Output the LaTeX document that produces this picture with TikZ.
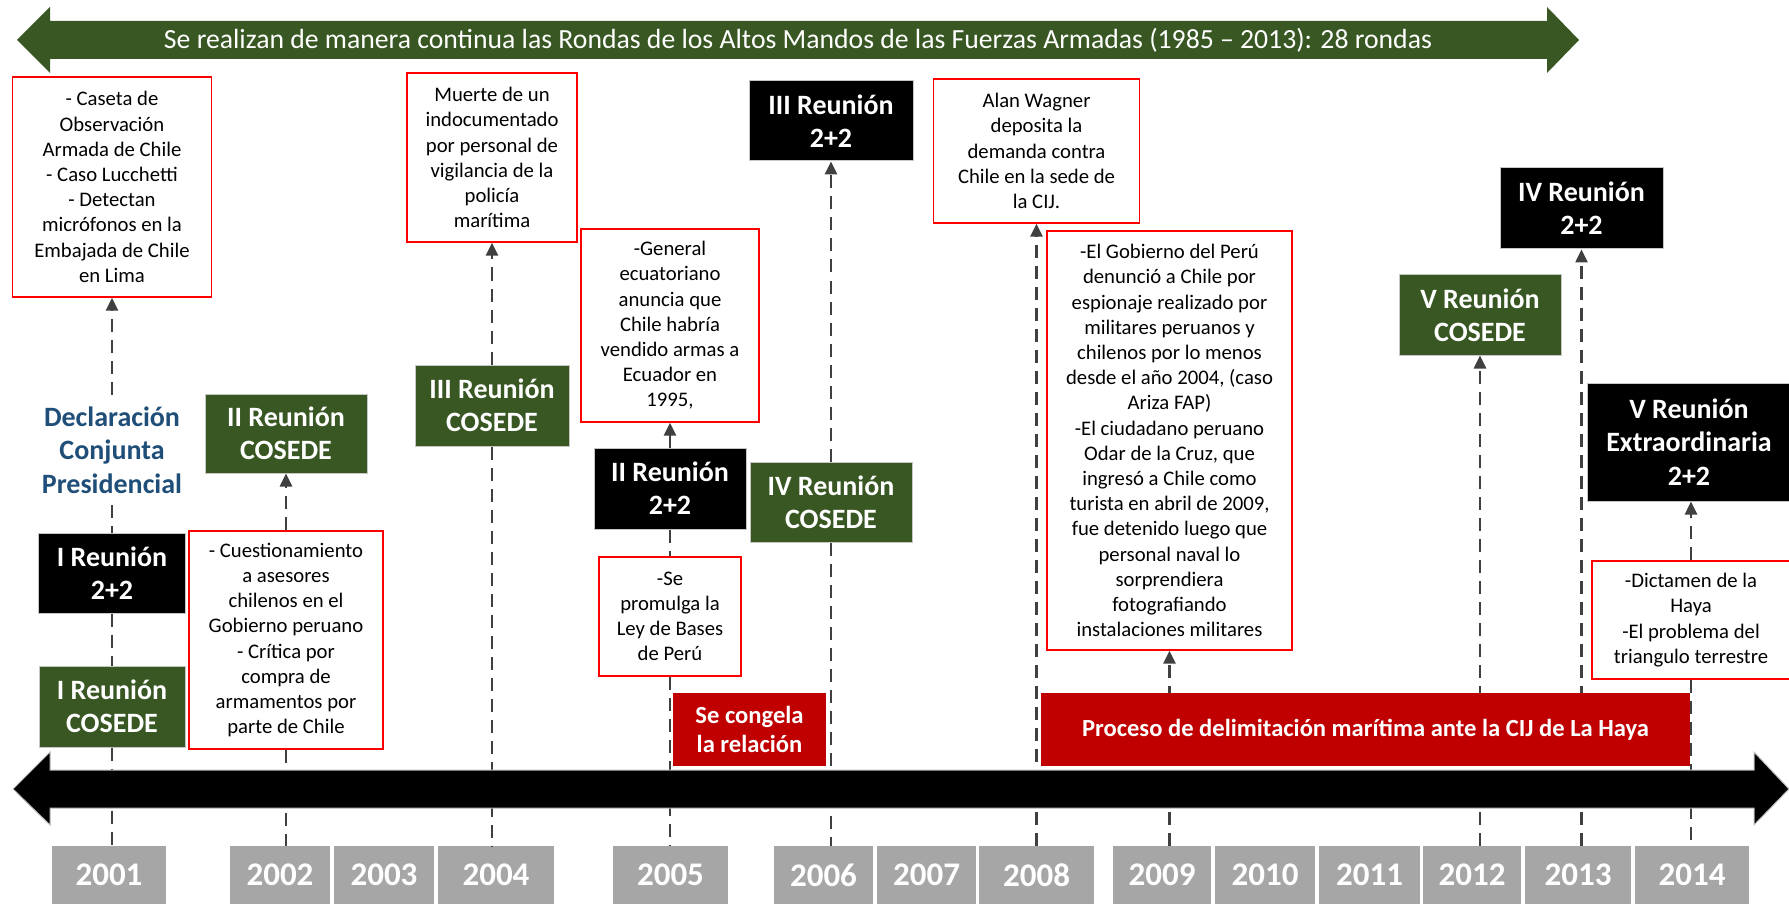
\documentclass[tikz,border=0pt]{standalone}
\usepackage{fontspec}
\setmainfont{Carlito}
\usepackage{tikz}
\usetikzlibrary{arrows.meta}
\definecolor{cosedegreen}{RGB}{56,87,35}
\definecolor{bandred}{RGB}{192,0,0}
\definecolor{declblue}{RGB}{31,78,121}
\definecolor{yeargray}{RGB}{166,166,166}
\definecolor{dashgray}{RGB}{64,64,64}

\begin{document}
\begin{tikzpicture}[x=1pt,y=-1pt,
  note/.style={draw=red,line width=1.3pt,fill=white,align=center,inner sep=0pt,
    font=\fontsize{20.7}{25.2}\selectfont},
  cosede/.style={draw=gray!45,line width=1pt,fill=cosedegreen,text=white,align=center,
    inner sep=0pt,font=\fontsize{28}{33.3}\selectfont\bfseries},
  dosdos/.style={cosede,fill=black},
  band/.style={fill=bandred,text=white,align=center,inner sep=0pt,
    font=\fontsize{24.6}{28.5}\selectfont\bfseries},
  anio/.style={fill=yeargray,text=white,inner sep=0pt,minimum height=58,
    font=\fontsize{33}{38}\selectfont\bfseries},
  link/.style={dashgray,line width=2.6pt,dash pattern=on 13pt off 8pt},
  linkup/.style={link,-{Triangle[width=12pt,length=13pt]}}]
  \useasboundingbox (0,0) rectangle (1789,904);

  % top band
  \draw[fill=cosedegreen,draw=none] (17,40) -- (50,7) -- (50,21) -- (1547,21) -- (1547,7)
    -- (1579,40) -- (1547,73) -- (1547,59) -- (50,59) -- (50,73) -- cycle;
  \node[text=white,font=\fontsize{27.7}{31}\selectfont] (rondas) at (798,40)
    {Se realizan de manera continua las Rondas de los Altos Mandos de las Fuerzas Armadas (1985 – 2013): 28 rondas};

  % years
  \foreach \yr/\xa/\xb in {2001/52/166,2002/230/330,2003/334/434,2004/438/554,
      2005/613/728,2006/774/873,2007/877/976,2008/979/1094,2009/1113/1211,
      2010/1215/1315,2011/1319/1420,2012/1423/1521,2013/1525/1631,2014/1635/1749}
    \node[anio,minimum width=\xb-\xa] (y\yr) at ({(\xa+\xb)/2},875) {\yr};

  % 2001
  \node[note,minimum width=199,minimum height=220] (caseta) at (112,187)
    {- Caseta de\\Observación\\Armada de Chile\\- Caso Lucchetti\\- Detectan\\micrófonos en la\\Embajada de Chile\\en Lima};
  \node[text=declblue,align=center,inner sep=12pt,font=\fontsize{28}{33.3}\selectfont\bfseries]
    (declaracion) at (112,450) {Declaración\\Conjunta\\Presidencial};
  \node[dosdos,minimum width=147,minimum height=80] (reunion1) at (112,573) {I Reunión\\2+2};
  \node[cosede,minimum width=146,minimum height=81] (cosede1) at (112,706.5) {I Reunión\\COSEDE};
  % 2002
  \node[cosede,minimum width=162,minimum height=79] (cosede2) at (286,433.5) {II Reunión\\COSEDE};
  \node[note,minimum width=194,minimum height=218] (cuestion) at (286,640)
    {- Cuestionamiento\\a asesores\\chilenos en el\\Gobierno peruano\\- Crítica por\\compra de\\armamentos por\\parte de Chile};
  % 2004
  \node[note,minimum width=170,minimum height=169] (muerte) at (492,157.5)
    {Muerte de un\\indocumentado\\por personal de\\vigilancia de la\\policía\\marítima};
  \node[cosede,minimum width=154,minimum height=81] (cosede3) at (492,405.5) {III Reunión\\COSEDE};
  % 2005
  \node[note,minimum width=178,minimum height=193] (general) at (670,325.5)
    {-General\\ecuatoriano\\anuncia que\\Chile habría\\vendido armas a\\Ecuador en\\1995,};
  \node[dosdos,minimum width=152,minimum height=81] (reunion2) at (670,488.5) {II Reunión\\2+2};
  \node[note,minimum width=142,minimum height=119] (promulga) at (670,616.5)
    {-Se\\promulga la\\Ley de Bases\\de Perú};
  \node[band,minimum width=153,minimum height=73] (congela) at (749.5,729.5) {Se congela\\la relación};
  % 2006
  \node[dosdos,minimum width=164,minimum height=80] (reunion3) at (831,121) {III Reunión\\2+2};
  \node[cosede,minimum width=162,minimum height=80] (cosede4) at (831,502) {IV Reunión\\COSEDE};
  % 2008
  \node[note,minimum width=206,minimum height=144] (wagner) at (1036.5,151)
    {Alan Wagner\\deposita la\\demanda contra\\Chile en la sede de\\la CIJ.};
  % 2009
  \node[note,minimum width=245,minimum height=419] (gobierno) at (1169.5,440.5)
    {-El Gobierno del Perú\\denunció a Chile por\\espionaje realizado por\\militares peruanos y\\chilenos por lo menos\\desde el año 2004, (caso\\Ariza FAP)\\-El ciudadano peruano\\Odar de la Cruz, que\\ingresó a Chile como\\turista en abril de 2009,\\fue detenido luego que\\personal naval lo\\sorprendiera\\fotografiando\\instalaciones militares};
  % 2012 - 2014
  \node[cosede,minimum width=162,minimum height=80] (cosede5) at (1480,315) {V Reunión\\COSEDE};
  \node[dosdos,minimum width=163,minimum height=81] (reunion4) at (1581.5,208.5) {IV Reunión\\2+2};
  \node[dosdos,minimum width=203,minimum height=118] (reunion5) at (1689,442) {V Reunión\\Extraordinaria\\2+2};
  \node[note,minimum width=198,minimum height=118] (dictamen) at (1691,620)
    {-Dictamen de la\\Haya\\-El problema del\\triangulo terrestre};

  % dashed links
  \draw[link] (cosede1.south) -- (cosede1.south |- y2001.north);
  \draw[link] (reunion1.south) -- (cosede1.north);
  \draw[link] (declaracion.south) -- (reunion1.north);
  \draw[linkup] (declaracion.north) -- (caseta.south);
  \draw[link] (cuestion.south) -- (cuestion.south |- y2002.north);
  \draw[linkup] (cuestion.north) -- (cosede2.south);
  \draw[link] (cosede3.south) -- (cosede3.south |- y2004.north);
  \draw[linkup] (cosede3.north) -- (muerte.south);
  \draw[link] (promulga.south) -- (promulga.south |- y2005.north);
  \draw[link] (reunion2.south) -- (promulga.north);
  \draw[linkup] (reunion2.north) -- (general.south);
  \draw[link] (cosede4.south) -- (cosede4.south |- y2006.north);
  \draw[linkup] (cosede4.north) -- (reunion3.south);
  \draw[linkup] (wagner.south |- y2008.north) -- (wagner.south);
  \draw[linkup] (gobierno.south |- y2009.north) -- (gobierno.south);
  \draw[linkup] (cosede5.south |- y2012.north) -- (cosede5.south);
  \draw[linkup] (reunion4.south |- y2013.north) -- (reunion4.south);
  \draw[link] (dictamen.south) -- (dictamen.south |- y2014.north);
  \draw[linkup] (dictamen.north) -- (dictamen.north |- reunion5.south);

  % time axis
  \draw[fill=black,draw=gray!50,line width=1pt] (13,789) -- (50,752) -- (50,770) -- (1754,770)
    -- (1754,752) -- (1789,789) -- (1754,825) -- (1754,808) -- (50,808) -- (50,825) -- cycle;
  \node[band,minimum width=649,minimum height=73] (proceso) at (1365.5,729.5)
    {Proceso de delimitación marítima ante la CIJ de La Haya};
\end{tikzpicture}
\end{document}
